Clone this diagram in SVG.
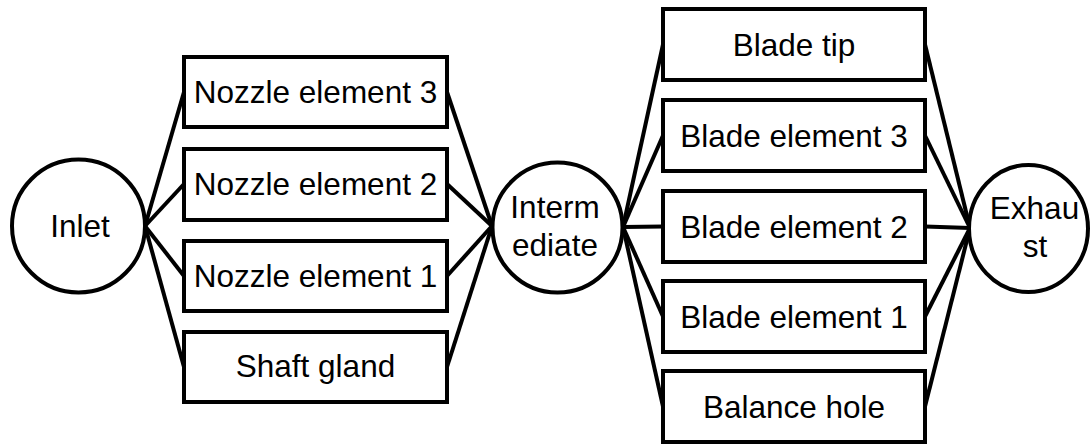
<svg xmlns="http://www.w3.org/2000/svg" width="1091" height="446" viewBox="0 0 1091 446">
  <style>
    .box { fill: #ffffff; stroke: #000000; stroke-width: 4; }
    .node { fill: #ffffff; stroke: #000000; stroke-width: 4; }
    .edge { stroke: #000000; stroke-width: 4; fill: none; }
    .label { font-family: "Liberation Sans", Arial, sans-serif; font-size: 31.5px; fill: #000000; text-anchor: middle; }
  </style>
  <rect width="1091" height="446" fill="#ffffff"/>

  <!-- connectors -->
  <g id="connectors">
    <!-- inlet fan-out to nozzle elements and shaft gland -->
    <line class="edge" x1="145" y1="226" x2="184" y2="92"/>
    <line class="edge" x1="145" y1="226" x2="184" y2="184"/>
    <line class="edge" x1="145" y1="226" x2="184" y2="276"/>
    <line class="edge" x1="145" y1="226" x2="184" y2="367"/>
    <!-- nozzle stage into intermediate -->
    <line class="edge" x1="447" y1="92" x2="492" y2="226"/>
    <line class="edge" x1="447" y1="184" x2="492" y2="226"/>
    <line class="edge" x1="447" y1="276" x2="492" y2="226"/>
    <line class="edge" x1="447" y1="367" x2="492" y2="226"/>
    <!-- intermediate fan-out to blade stage -->
    <line class="edge" x1="623" y1="227" x2="663" y2="44.5"/>
    <line class="edge" x1="623" y1="227" x2="663" y2="135.5"/>
    <line class="edge" x1="623" y1="227" x2="663" y2="226.5"/>
    <line class="edge" x1="623" y1="227" x2="663" y2="316.5"/>
    <line class="edge" x1="623" y1="227" x2="663" y2="406.5"/>
    <!-- blade stage into exhaust -->
    <line class="edge" x1="925" y1="44.5" x2="970" y2="228"/>
    <line class="edge" x1="925" y1="135.5" x2="970" y2="228"/>
    <line class="edge" x1="925" y1="226.5" x2="970" y2="228"/>
    <line class="edge" x1="925" y1="316.5" x2="970" y2="228"/>
    <line class="edge" x1="925" y1="406.5" x2="970" y2="228"/>
  </g>

  <g id="inlet">
    <circle class="node" cx="78.5" cy="226" r="66.5"/>
    <text class="label" x="80" y="237">Inlet</text>
  </g>

  <g id="nozzle-element-3">
    <rect class="box" x="184" y="57" width="263" height="70"/>
    <text class="label" x="315.5" y="103">Nozzle element 3</text>
  </g>
  <g id="nozzle-element-2">
    <rect class="box" x="184" y="149" width="263" height="71"/>
    <text class="label" x="315.5" y="195">Nozzle element 2</text>
  </g>
  <g id="nozzle-element-1">
    <rect class="box" x="184" y="241" width="263" height="70"/>
    <text class="label" x="315.5" y="287">Nozzle element 1</text>
  </g>
  <g id="shaft-gland">
    <rect class="box" x="184" y="332" width="263" height="70"/>
    <text class="label" x="315.5" y="377">Shaft gland</text>
  </g>

  <g id="intermediate">
    <circle class="node" cx="557.5" cy="227.5" r="65"/>
    <text class="label" x="555" y="218">Interm</text>
    <text class="label" x="555" y="256">ediate</text>
  </g>

  <g id="blade-tip">
    <rect class="box" x="663" y="9" width="262" height="71"/>
    <text class="label" x="794" y="56">Blade tip</text>
  </g>
  <g id="blade-element-3">
    <rect class="box" x="663" y="100" width="262" height="71"/>
    <text class="label" x="794" y="147">Blade element 3</text>
  </g>
  <g id="blade-element-2">
    <rect class="box" x="663" y="191" width="262" height="71"/>
    <text class="label" x="794" y="238">Blade element 2</text>
  </g>
  <g id="blade-element-1">
    <rect class="box" x="663" y="281" width="262" height="71"/>
    <text class="label" x="794" y="328">Blade element 1</text>
  </g>
  <g id="balance-hole">
    <rect class="box" x="663" y="371" width="262" height="71"/>
    <text class="label" x="794" y="418">Balance hole</text>
  </g>

  <g id="exhaust">
    <ellipse class="node" cx="1028.5" cy="228.5" rx="59.5" ry="63.5"/>
    <text class="label" x="1034.5" y="219">Exhau</text>
    <text class="label" x="1035" y="257">st</text>
  </g>
</svg>
